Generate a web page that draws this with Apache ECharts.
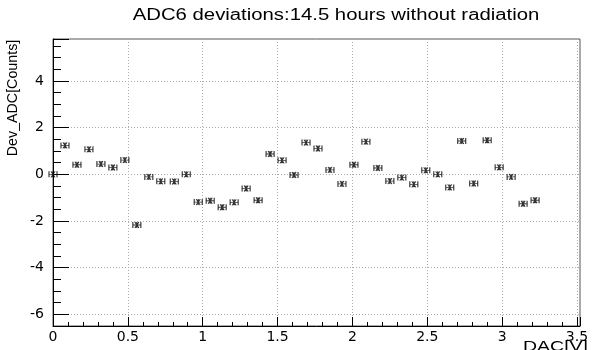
<!DOCTYPE html>
<html>
<head>
<meta charset="utf-8">
<script src="https://cdn.jsdelivr.net/npm/echarts@6/dist/echarts.min.js"></script>
<style>
  html, body { margin: 0; padding: 0; background: #ffffff; }
  #chart { width: 593px; height: 350px; }
</style>
</head>
<body>
<div id="chart"></div>
<script>
// DAC voltage of each measurement point [V]
const dacVolts = [
  0.00, 0.08, 0.16, 0.24, 0.32, 0.40, 0.48, 0.56, 0.64, 0.72,
  0.81, 0.89, 0.97, 1.05, 1.13, 1.21, 1.29, 1.37, 1.45, 1.53,
  1.61, 1.69, 1.77, 1.85, 1.93, 2.01, 2.09, 2.17, 2.25, 2.33,
  2.41, 2.49, 2.57, 2.65, 2.73, 2.81, 2.90, 2.98, 3.06, 3.14,
  3.22
];

// ADC6 deviation at each DAC setting [counts]
const devCounts = [
  0.00, 1.24, 0.41, 1.07, 0.44, 0.29, 0.61, -2.17, -0.11, -0.30,
  -0.31, 0.00, -1.19, -1.13, -1.41, -1.20, -0.61, -1.11, 0.87, 0.60,
  -0.03, 1.36, 1.11, 0.19, -0.41, 0.41, 1.40, 0.27, -0.29, -0.14,
  -0.43, 0.17, 0.00, -0.56, 1.43, -0.39, 1.46, 0.30, -0.11, -1.26,
  -1.11
];

const titleText = 'ADC6 deviations:14.5 hours without radiation';
const xAxisTitle = 'DAC[V]';
const yAxisTitle = 'Dev_ADC[Counts]';

const points = dacVolts.map((v, i) => [v, devCounts[i]]);

// small asterisk with end caps, stroked only
const markerPath = 'path://M0,0 L0,6 M8,0 L8,6 M0,3 L8,3 M2,0 L6,6 M6,0 L2,6 M4,0 L4,6';

const chart = echarts.init(document.getElementById('chart'), null, { renderer: 'canvas' });

const tickFont = { fontFamily: 'DejaVu Sans', fontSize: 14, color: '#000' };

chart.setOption({
  animation: false,
  backgroundColor: '#ffffff',
  grid: {
    left: 53, right: 13, top: 39, bottom: 24,
    show: true, borderColor: '#555', borderWidth: 1, backgroundColor: 'transparent'
  },
  xAxis: {
    type: 'value',
    min: 0, max: 3.52, interval: 0.5,
    axisLine: { show: true, onZero: false, lineStyle: { color: '#000', width: 1 } },
    axisTick: { show: true, inside: true, length: 9, lineStyle: { color: '#000' } },
    minorTick: { show: true, splitNumber: 5, length: 4, lineStyle: { color: '#000' } },
    splitLine: { show: true, lineStyle: { color: '#aaa', type: [1, 2], width: 1 } },
    axisLabel: Object.assign({
      margin: 4,
      formatter: v => (Math.abs(v / 0.5 - Math.round(v / 0.5)) < 1e-6 ? String(v) : '')
    }, tickFont)
  },
  yAxis: {
    type: 'value',
    min: -6.5, max: 5.8, splitNumber: 6,
    axisLine: { show: true, onZero: false, lineStyle: { color: '#000', width: 1 } },
    axisTick: { show: true, inside: true, length: 16, lineStyle: { color: '#000' } },
    minorTick: { show: true, splitNumber: 4, length: 8, lineStyle: { color: '#000' } },
    splitLine: { show: true, lineStyle: { color: '#aaa', type: [1, 2], width: 1 } },
    axisLabel: Object.assign({
      margin: 9,
      formatter: v => (Math.abs(v / 2 - Math.round(v / 2)) < 1e-6 ? String(v) : '')
    }, tickFont)
  },
  series: [{
    type: 'scatter',
    data: points,
    symbol: markerPath,
    symbolSize: [8, 6],
    clip: false,
    itemStyle: { color: 'transparent', borderColor: '#000', borderWidth: 1 }
  }],
  graphic: [
    {
      type: 'text', x: 336, y: 16, scaleX: 1.27,
      style: {
        text: titleText, fill: '#000',
        font: '16px "Liberation Sans", Arial, sans-serif',
        textAlign: 'center', textVerticalAlign: 'middle'
      }
    },
    {
      type: 'text', x: 13, y: 98, rotation: Math.PI / 2, scaleX: 0.95,
      style: {
        text: yAxisTitle, fill: '#000',
        font: '15px "Liberation Sans", Arial, sans-serif',
        textAlign: 'center', textVerticalAlign: 'middle'
      }
    },
    {
      type: 'text', x: 588, y: 339, scaleX: 1.3,
      style: {
        text: xAxisTitle, fill: '#000',
        font: '15px "Liberation Sans", Arial, sans-serif',
        textAlign: 'right', textVerticalAlign: 'top'
      }
    }
  ]
});
</script>
</body>
</html>
